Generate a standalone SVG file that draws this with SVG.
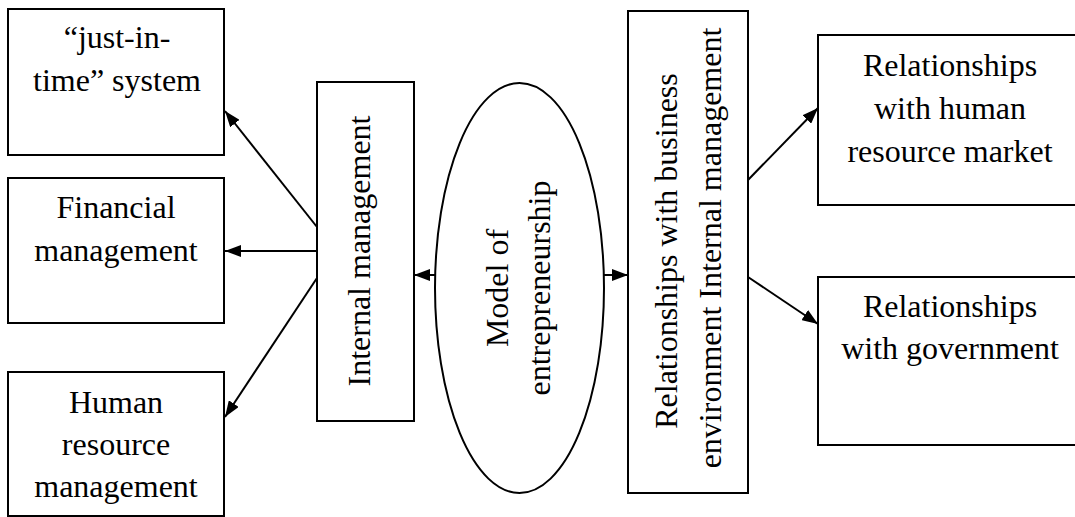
<svg xmlns="http://www.w3.org/2000/svg" width="1075" height="517" viewBox="0 0 1075 517">
<defs>
<marker id="ah" viewBox="0 0 16 12" refX="16" refY="6" markerWidth="16" markerHeight="12" markerUnits="userSpaceOnUse" orient="auto">
<path d="M0,0 L16,6 L0,12 z" fill="#000"/>
</marker>
<style>
.box{fill:#fff;stroke:#000;stroke-width:2}
.t{font-family:"Liberation Serif","Times New Roman",serif;font-size:32px;fill:#000;text-anchor:middle}
.c{stroke:#000;stroke-width:2;fill:none;marker-end:url(#ah)}
</style>
</defs>
<rect width="1075" height="517" fill="#fff"/>
<g id="jit">
<rect class="box" x="8" y="9" width="216" height="146"/>
<text class="t" x="117" y="48">“just-in-</text>
<text class="t" x="117" y="91">time” system</text>
</g>
<g id="financial">
<rect class="box" x="8" y="178" width="216" height="145"/>
<text class="t" x="116" y="218">Financial</text>
<text class="t" x="116" y="261">management</text>
</g>
<g id="hrm">
<rect class="box" x="8" y="372" width="216" height="144"/>
<text class="t" x="116" y="413">Human</text>
<text class="t" x="116" y="455">resource</text>
<text class="t" x="116" y="497">management</text>
</g>
<g id="internal">
<rect class="box" x="317" y="82" width="97" height="339"/>
<text class="t" transform="translate(370,251) rotate(-90)">Internal management</text>
</g>
<g id="model">
<ellipse cx="519.5" cy="288" rx="84.5" ry="205" fill="#fff" stroke="#000" stroke-width="2"/>
<text class="t" transform="translate(508,288) rotate(-90)">Model of</text>
<text class="t" transform="translate(550,288) rotate(-90)">entrepreneurship</text>
</g>
<g id="relations">
<rect class="box" x="628" y="11" width="120" height="482"/>
<text class="t" transform="translate(677,251) rotate(-90)">Relationships with business</text>
<text class="t" transform="translate(721,248) rotate(-90)">environment Internal management</text>
</g>
<g id="hrmarket">
<rect class="box" x="818" y="35" width="270" height="170"/>
<text class="t" x="950" y="76">Relationships</text>
<text class="t" x="950" y="119">with human</text>
<text class="t" x="950" y="162">resource market</text>
</g>
<g id="government">
<rect class="box" x="818" y="277" width="270" height="168"/>
<text class="t" x="950" y="317">Relationships</text>
<text class="t" x="950" y="359">with government</text>
</g>
<g id="connectors">
<line class="c" x1="317" y1="227" x2="225" y2="111"/>
<line class="c" x1="317" y1="251" x2="225" y2="251"/>
<line class="c" x1="317" y1="278" x2="225" y2="417"/>
<line class="c" x1="435" y1="275" x2="414" y2="275"/>
<line class="c" x1="604" y1="275" x2="628" y2="275"/>
<line class="c" x1="748" y1="180" x2="818" y2="108"/>
<line class="c" x1="748" y1="277" x2="818" y2="324"/>
</g>
</svg>
